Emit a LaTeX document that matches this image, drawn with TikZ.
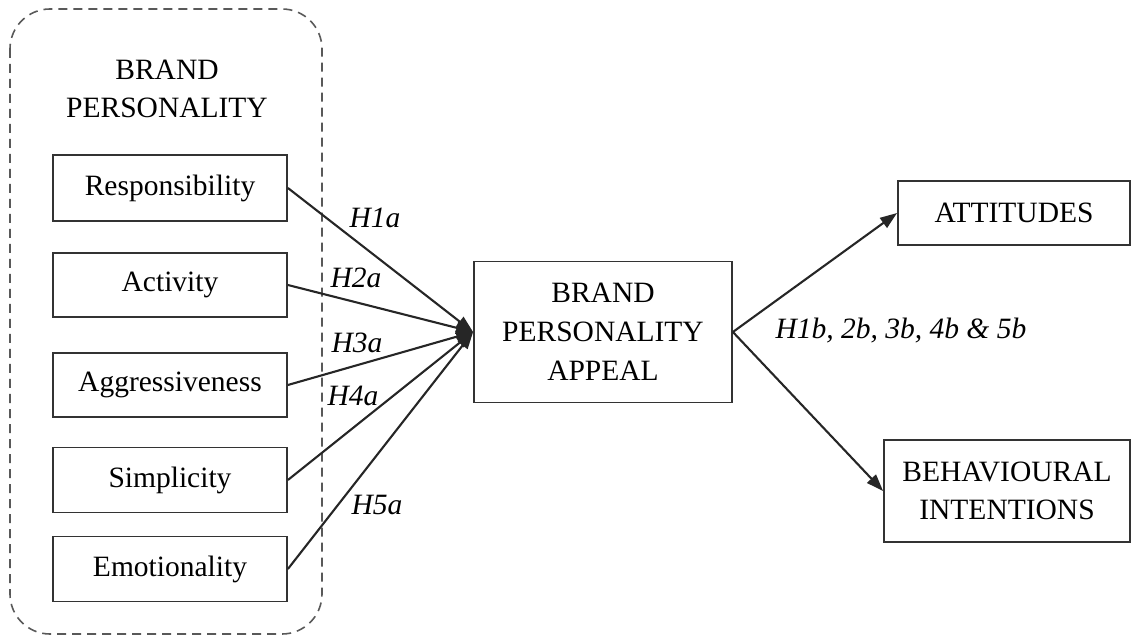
\documentclass[tikz,border=0pt]{standalone}
\usepackage{fontspec}
\setmainfont{Liberation Serif}
\usetikzlibrary{arrows.meta}
\begin{document}
\begin{tikzpicture}[x=1pt,y=-1pt,
  every node/.style={font=\fontsize{29.5}{38}\selectfont, text=black},
  box/.style={draw=black!80, line width=1.8pt, align=center, inner sep=0pt},
  conn/.style={line width=2.1pt, draw=black!85, -{Triangle[length=17pt,width=12pt]}},
  lbl/.style={font=\fontsize{29.5}{38}\selectfont\itshape}]
\useasboundingbox (0,0) rectangle (1133,636);
\draw[draw=black!65, line width=1.6pt, dash pattern=on 9pt off 6pt, rounded corners=40pt] (10,9) rectangle (322,634);
\node[align=center] (title) at (167,89) {BRAND\\PERSONALITY};
\node[box, minimum width=234pt, minimum height=66pt] (resp) at (170,188) {Responsibility};
\node[box, minimum width=234pt, minimum height=64pt] (act) at (170,285) {Activity};
\node[box, minimum width=234pt, minimum height=64pt] (agg) at (170,385) {Aggressiveness};
\node[box, minimum width=234pt, minimum height=65pt] (simp) at (170,480) {Simplicity};
\node[box, minimum width=234pt, minimum height=65pt] (emo) at (170,569) {Emotionality};
\node[box, minimum width=258pt, minimum height=141pt, align=center] (bpa) at (603,332) {BRAND\\[1pt]PERSONALITY\\[1pt]APPEAL};
\node[box, minimum width=232pt, minimum height=64pt] (att) at (1014,213) {ATTITUDES};
\node[box, minimum width=246pt, minimum height=102pt] (beh) at (1007,491) {BEHAVIOURAL\\INTENTIONS};
\coordinate (hub) at (bpa.west);
\draw[conn] (resp.east) -- (hub);
\draw[conn] (act.east) -- (hub);
\draw[conn] (agg.east) -- (hub);
\draw[conn] (simp.east) -- (hub);
\draw[conn] (emo.east) -- (hub);
\draw[conn] (bpa.east) -- (att.west);
\draw[conn] (bpa.east) -- (beh.west);
\node[lbl] (h1) at (375,218) {H1a};
\node[lbl] (h2) at (356,278) {H2a};
\node[lbl] (h3) at (357,343) {H3a};
\node[lbl] (h4) at (353,396) {H4a};
\node[lbl] (h5) at (377,505) {H5a};
\node[lbl, anchor=west] (hb) at (772,331) {H1b, 2b, 3b, 4b \& 5b};
\end{tikzpicture}
\end{document}
